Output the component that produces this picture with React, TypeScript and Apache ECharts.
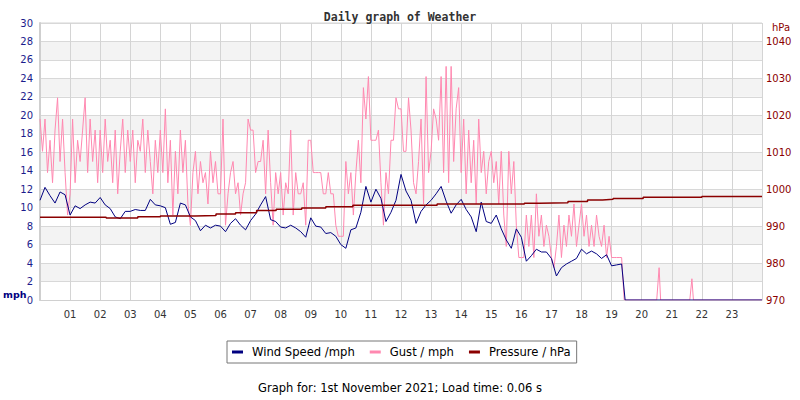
import { useEffect, useRef } from "react";
import * as echarts from "echarts";

// Tick labels for the hour axis
const hourLabels = ["01","02","03","04","05","06","07","08","09","10","11","12","13","14","15","16","17","18","19","20","21","22","23"];

// Wind speed (mph), one reading every 10 minutes from 00:00 to 19:20
const windMph = [
  10.8, 12.2, 11.3, 10.5, 11.7, 11.4,
  9.2, 10.2, 9.9, 10.3, 10.6, 10.5,
  11.1, 10.3, 9.9, 9.0, 8.8, 9.6,
  9.6, 9.8, 9.7, 9.7, 10.9, 10.3,
  10.2, 10.0, 8.2, 8.4, 10.5, 10.3,
  9.0, 8.6, 7.5, 8.1, 7.8, 8.1,
  8.0, 7.4, 8.3, 8.8, 8.1, 7.6,
  8.6, 9.3, 10.3, 11.2, 8.7, 8.5,
  7.9, 7.8, 8.1, 7.8, 7.4, 6.8,
  8.9, 8.0, 7.9, 7.2, 7.3, 6.9,
  6.0, 5.6, 7.6, 7.8, 9.5, 12.3,
  10.6, 12.0, 11.0, 8.5, 9.5, 10.8,
  13.6, 11.8, 10.8, 8.3, 9.6, 10.3,
  10.8, 11.5, 12.3, 10.7, 9.4, 10.3,
  10.9, 9.8, 9.0, 7.4, 10.6, 8.5,
  8.3, 9.2, 7.7, 6.5, 5.6, 7.7,
  6.8, 4.2, 4.8, 5.5, 5.2, 5.2,
  4.5, 2.6, 3.5, 3.9, 4.2, 4.5,
  5.5, 5.0, 5.3, 5.0, 4.5, 4.9,
  3.7, 3.8, 3.9,
];
// Wind after the sensor dropped out: [hour, mph]
const windTail: [number, number][] = [[19.45, 0], [24, 0]];

// Gust (mph), one reading every 5 minutes from 00:00 to 19:20
const gustMph = [
  19.6, 16.1, 19.6, 13.8, 17.3, 12.7, 18.4, 21.9, 15.0, 19.6, 13.8, 9.2,
  11.5, 19.6, 12.7, 17.3, 15.0, 18.4, 21.9, 13.8, 19.6, 15.0, 18.4, 12.7,
  18.4, 13.8, 19.6, 15.0, 17.3, 12.7, 18.4, 11.5, 16.1, 19.6, 13.8, 18.4,
  15.0, 18.4, 12.7, 17.3, 16.1, 19.6, 13.8, 18.4, 15.0, 11.5, 17.3, 13.8,
  18.4, 13.8, 20.7, 12.7, 17.3, 9.2, 16.1, 11.5, 18.4, 13.8, 17.3, 10.4,
  8.1, 13.8, 16.1, 11.5, 15.0, 12.7, 13.8, 10.4, 16.1, 12.7, 15.0, 11.5,
  11.5, 19.6, 8.1, 11.5, 13.8, 15.0, 11.5, 12.7, 9.2, 11.5, 12.7, 19.6,
  18.4, 18.4, 13.8, 15.0, 15.0, 17.3, 11.5, 18.4, 12.7, 8.1, 13.8, 11.5,
  13.8, 9.2, 12.7, 11.5, 18.4, 9.2, 13.8, 11.5, 11.5, 12.7, 8.1, 17.3,
  17.3, 13.8, 13.8, 13.8, 13.8, 11.5, 11.5, 13.8, 11.5, 11.5, 8.1, 6.9,
  6.9, 6.9, 15.0, 11.5, 13.8, 9.2, 13.8, 17.3, 12.7, 23.0, 19.6, 24.2,
  17.3, 17.3, 17.3, 18.4, 12.7, 8.1, 13.8, 11.5, 17.3, 17.3, 21.9, 20.7,
  20.7, 16.1, 16.1, 21.9, 18.4, 12.7, 11.5, 15.0, 19.6, 10.4, 24.2, 13.8,
  16.1, 20.7, 19.6, 17.3, 24.2, 13.8, 25.3, 12.7, 25.3, 15.0, 20.7, 23.0,
  13.8, 19.6, 11.5, 18.4, 12.7, 17.3, 10.4, 19.6, 13.8, 16.1, 11.5, 15.0,
  16.1, 12.7, 15.0, 10.4, 16.1, 9.2, 5.8, 16.1, 11.5, 15.0, 8.1, 4.6,
  4.6, 4.6, 9.2, 5.8, 9.2, 4.6, 11.5, 6.9, 9.2, 5.8, 8.1, 6.9,
  4.6, 3.5, 5.8, 9.2, 4.6, 8.1, 5.8, 9.2, 6.9, 10.4, 5.8, 8.1,
  10.4, 6.9, 9.2, 5.8, 8.1, 5.8, 9.2, 6.9, 5.8, 8.1, 4.6, 6.9,
  4.6, 4.6, 4.6, 4.6, 4.6,
];
// Gust after the sensor dropped out: [hour, mph]
const gustTail: [number, number][] = [
  [19.42, 0], [20.5, 0], [20.58, 3.5], [20.63, 0], [21.6, 0], [21.67, 2.3], [21.72, 0], [24, 0],
];

// Pressure (hPa) change points: [hour, hPa]
const pressureHpa: [number, number][] = [
  [0, 992.4], [2.2, 992.2], [3.25, 992.55], [4.0, 992.75], [5.15, 992.9], [5.85, 993.3],
  [6.5, 993.6], [7.2, 994.2], [7.85, 994.55], [8.7, 994.9], [9.5, 995.25], [10.4, 995.65],
  [13.2, 996.0], [16.1, 996.2], [16.6, 996.35], [17.55, 996.7], [18.2, 997.1], [18.7, 997.25],
  [19.05, 997.45], [20.05, 997.8], [22.0, 998.0], [24, 998.0],
];

const FONT = "DejaVu Sans";

export default function App() {
  const ref = useRef<HTMLDivElement>(null);
  useEffect(() => {
    if (!ref.current) return;
    const chart = echarts.init(ref.current, undefined, { renderer: "svg" });
    const windData = windMph.map((v, i) => [i / 6, v]).concat(windTail);
    const gustData = gustMph.map((v, i) => [i / 12, v]).concat(gustTail);
    chart.setOption({
      animation: false,
      backgroundColor: "#ffffff",
      title: {
        text: "Daily graph of Weather",
        left: "center",
        top: 6,
        textStyle: { fontFamily: "DejaVu Sans Mono", fontWeight: "bold", fontSize: 11.5, color: "#333" },
      },
      grid: {
        left: 40, right: 38, top: 23, bottom: 100,
        show: true, borderColor: "#d4d4d4", borderWidth: 1,
      },
      legend: {
        data: ["Wind Speed /mph", "Gust / mph", "Pressure / hPa"],
        left: 227, top: 341,
        padding: [5, 6, 5, 5],
        itemGap: 15, itemWidth: 11, itemHeight: 3,
        icon: "rect",
        borderColor: "#777", borderWidth: 1,
        textStyle: { fontFamily: FONT, fontSize: 11.6, color: "#000", padding: [0, 0, 0, 4] },
      },
      xAxis: {
        type: "value", min: 0, max: 24, interval: 1,
        axisLine: { show: true, lineStyle: { color: "#d0d0d0" } },
        axisTick: { show: false },
        axisLabel: {
          margin: 9, color: "#333", fontFamily: FONT, fontSize: 10,
          formatter: (v: number) => (v >= 1 && v <= 23 ? hourLabels[v - 1] : ""),
        },
        splitLine: { show: true, lineStyle: { color: "#d4d4d4" } },
      },
      yAxis: [
        {
          type: "value", min: 0, max: 30, interval: 2, position: "left",
          axisLine: { show: true, lineStyle: { color: "#cfcfcf", width: 2 } },
          axisTick: { show: false },
          axisLabel: { margin: 7, color: "#1c1c8c", fontFamily: FONT, fontSize: 10 },
          splitLine: { show: true, lineStyle: { color: "#d8d8d8" } },
          splitArea: { show: true, areaStyle: { color: ["#ffffff", "#f3f3f3"] } },
        },
        {
          type: "value", min: 970, max: 1045, interval: 10, position: "right",
          axisLine: { show: false }, axisTick: { show: false },
          axisLabel: {
            margin: 4, color: "#8b0000", fontFamily: FONT, fontSize: 10, showMaxLabel: false,
            formatter: (v: number) => String(v),
          },
          splitLine: { show: false },
        },
      ],
      graphic: [
        { type: "text", left: 3, top: 289, style: { text: "mph", fontFamily: FONT, fontWeight: "bold", fontSize: 9.5, fill: "#000080" } },
        { type: "text", left: 772, top: 22, style: { text: "hPa", fontFamily: FONT, fontSize: 10, fill: "#8b0000" } },
        { type: "text", left: "center", top: 382, style: { text: "Graph for: 1st November 2021; Load time: 0.06 s", fontFamily: FONT, fontSize: 11.5, fill: "#000" } },
      ],
      series: [
        {
          name: "Gust / mph", type: "line", yAxisIndex: 0, data: gustData, showSymbol: false,
          lineStyle: { color: "#ff88b0", width: 1 }, itemStyle: { color: "#ff88b0" },
        },
        {
          name: "Wind Speed /mph", type: "line", yAxisIndex: 0, data: windData, showSymbol: false,
          lineStyle: { color: "#000080", width: 1 }, itemStyle: { color: "#000080" },
        },
        {
          name: "Pressure / hPa", type: "line", yAxisIndex: 1, data: pressureHpa, showSymbol: false, step: "end",
          lineStyle: { color: "#8b0000", width: 1.5 }, itemStyle: { color: "#8b0000" },
        },
      ],
    });
    return () => chart.dispose();
  }, []);
  return <div ref={ref} style={{ position: "fixed", left: 0, top: 0, width: 800, height: 400 }} />;
}
